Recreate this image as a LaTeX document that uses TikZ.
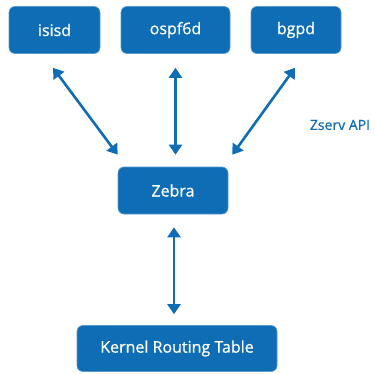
\documentclass[tikz,border=0pt]{standalone}
\usepackage{fontspec}
\setmainfont{Open Sans}[FakeBold=0.7]
\usetikzlibrary{arrows.meta,calc}
\definecolor{zblue}{HTML}{0F6DB6}
\tikzset{
  box/.style={fill=zblue, draw=zblue!70!white, line width=0.6pt, rounded corners=6pt, text=white, font=\fontsize{16}{18}\selectfont, inner sep=0pt},
  link/.style={draw=zblue, line width=2.6pt, {Triangle[width=13pt,length=10pt]}-{Triangle[width=13pt,length=10pt]}}
}
\begin{document}
\begin{tikzpicture}[x=1pt,y=1pt]
\useasboundingbox (0,0) rectangle (375,373);
\node[box, minimum width=91pt, minimum height=47pt] (isisd) at (54.5,343) {isisd};
\node[box, minimum width=109pt, minimum height=47pt] (ospf) at (175.5,343) {ospf6d};
\node[box, minimum width=90pt, minimum height=47pt] (bgpd) at (296,343) {bgpd};
\node[box, minimum width=110pt, minimum height=47pt] (zebra) at (173,182.5) {Zebra};
\node[box, minimum width=200pt, minimum height=46pt] (kernel) at (177,24.5) {Kernel Routing Table};
\node[text=zblue, font=\fontsize{14}{16}\selectfont, inner sep=0pt] (api) at (340,248) {Zserv API};
\coordinate (a1s) at ($(isisd.south)+(-1.5,-14)$);
\coordinate (a1e) at ($(zebra.north west)+(0,12)$);
\coordinate (a2s) at ($(ospf.south)+(0,-14)$);
\coordinate (a2e) at ($(ospf.south |- zebra.north)+(0,12)$);
\coordinate (a3s) at ($(bgpd.south)+(-1,-14)$);
\coordinate (a3e) at ($(zebra.north east)+(4,12)$);
\coordinate (a4s) at ($(zebra.south)+(1,-13)$);
\coordinate (a4e) at ($(zebra.south |- kernel.north)+(1,11)$);
\draw[link] (a1s) -- (a1e);
\draw[link] (a2s) -- (a2e);
\draw[link] (a3s) -- (a3e);
\draw[link] (a4s) -- (a4e);
\end{tikzpicture}
\end{document}
